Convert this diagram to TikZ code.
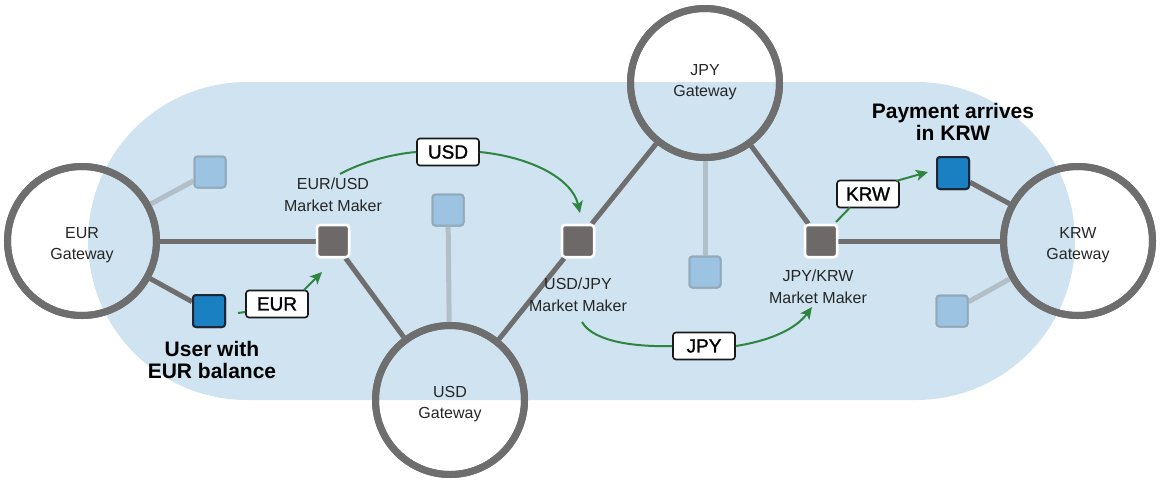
\documentclass[tikz,border=0pt]{standalone}
\usepackage{fontspec}
\setmainfont{Liberation Sans}
\newfontfamily\medfont[FakeBold=1.3]{Liberation Sans}
\usetikzlibrary{arrows.meta}
\definecolor{bgblue}{HTML}{CFE3F0}
\definecolor{gwgray}{HTML}{6E6E6E}
\definecolor{lightline}{HTML}{B3BFC8}
\definecolor{mmfill}{HTML}{6D6968}
\definecolor{sqlight}{HTML}{9DC3E3}
\definecolor{sqlightb}{HTML}{93AABB}
\definecolor{sqdark}{HTML}{1B80C2}
\definecolor{sqdarkb}{HTML}{1C2733}
\definecolor{flow}{HTML}{2E8540}
\begin{document}
\begin{tikzpicture}[x=1pt,y=-1pt,
  gw/.style={circle,draw=gwgray,line width=7pt,minimum size=149pt,inner sep=0pt,align=center,font=\fontsize{16}{22}\selectfont,text=black!85},
  mm/.style={rectangle,rounded corners=3pt,fill=mmfill,draw=white,line width=2.5pt,minimum size=32pt,inner sep=0pt},
  lsq/.style={rectangle,rounded corners=3pt,fill=sqlight,draw=sqlightb,line width=2pt,minimum size=31pt,inner sep=0pt},
  dsq/.style={rectangle,rounded corners=3pt,fill=sqdark,draw=sqdarkb,line width=2pt,minimum size=32pt,inner sep=0pt},
  lbl/.style={align=center,font=\fontsize{16}{21.5}\selectfont,text=black!85},
  big/.style={align=center,font=\fontsize{21}{21.5}\selectfont\bfseries},
  cur/.style={draw=black!90,fill=white,line width=1.6pt,rounded corners=3pt,minimum width=62pt,minimum height=27pt,inner sep=0pt,font=\fontsize{19}{20}\medfont},
  dline/.style={draw=gwgray,line width=5pt},
  lline/.style={draw=lightline,line width=5pt},
  fl/.style={draw=flow,line width=2pt},
  fla/.style={draw=flow,line width=2pt,-{Stealth[length=12pt,width=11pt,inset=3pt]}}
]
\useasboundingbox (0,0) rectangle (1170,485);
\fill[bgblue,rounded corners=159pt] (88,82) rectangle (1075,400);

% nodes
\node[gw] (eur) at (82,241) {};
\node[gw] (usd) at (450,400) {};
\node[gw] (jpy) at (705,83) {};
\node[gw] (krw) at (1078,241) {};

\node[mm] (m1) at (333,241) {};
\node[mm] (m2) at (578,241) {};
\node[mm] (m3) at (821,241) {};

\node[lsq] (l1) at (210,172) {};
\node[lsq] (l2) at (448,210) {};
\node[lsq] (l3) at (705,272) {};
\node[lsq] (l4) at (952,311) {};

\node[dsq] (user) at (209,311) {};
\node[dsq] (pay) at (953,173) {};

% connectors
\path[lline] (eur) -- (l1);
\path[lline] (usd) -- (l2);
\path[lline] (jpy) -- (l3);
\path[lline] (krw) -- (l4);
\path[dline] (eur) -- (m1);
\path[dline] (eur) -- (user);
\path[dline] (m1) -- (usd);
\path[dline] (usd) -- (m2);
\path[dline] (m2) -- (jpy);
\path[dline] (jpy) -- (m3);
\path[dline] (m3) -- (krw);
\path[dline] (krw) -- (pay);

% redraw nodes on top of lines
\node[gw] at (82,241) {};
\node[gw] at (450,400) {};
\node[gw] at (705,83) {};
\node[gw] at (1078,241) {};
\node[mm] at (333,241) {};
\node[mm] at (578,241) {};
\node[mm] at (821,241) {};
\node[lsq] at (210,172) {};
\node[lsq] at (448,210) {};
\node[lsq] at (705,272) {};
\node[lsq] at (952,311) {};
\node[dsq] at (209,311) {};
\node[dsq] at (953,173) {};

% gateway texts
\node[lbl] (g1) at (82,245) {EUR\\Gateway};
\node[lbl] (g2) at (450,404) {USD\\Gateway};
\node[lbl] (g3) at (705,82) {JPY\\Gateway};
\node[lbl] (g4) at (1078,245) {KRW\\Gateway};

% labels
\node[lbl] (t1) at (333,195) {EUR/USD\\Market Maker};
\node[lbl] (t2) at (578,295) {USD/JPY\\Market Maker};
\node[lbl] (t3) at (818,287) {JPY/KRW\\Market Maker};
\node[big] (tu) at (212,360) {User with\\EUR balance};
\node[big] (tp) at (953,122) {Payment arrives\\in KRW};

% currency boxes
\node[cur] (ceur) at (277,304) {EUR};
\node[cur] (cusd) at (448,152) {USD};
\node[cur] (cjpy) at (704,346) {JPY};
\node[cur] (ckrw) at (868,194) {KRW};

% flows
\coordinate (a1s) at (238,313);
\coordinate (a1e) at (322,272);
\draw[fl] (a1s) -- (ceur.west |- 0,312);
\draw[fla] (304,290) -- (a1e);

\coordinate (a2s) at (340,174);
\coordinate (a2e) at (580,213);
\draw[fl] (a2s) .. controls (362,162) and (392,154) .. (cusd.west);
\draw[fla] (cusd.east) .. controls (530,157) and (572,178) .. (a2e);

\coordinate (a3s) at (582,322);
\coordinate (a3e) at (812,307);
\draw[fl] (a3s) .. controls (594,343) and (640,347) .. (cjpy.west);
\draw[fla] (cjpy.east) .. controls (768,341) and (795,330) .. (a3e);

\coordinate (a4s) at (836,222);
\coordinate (a4e) at (928,172);
\draw[fl] (a4s) -- (850,207.5);
\draw[fla] (896,181) -- (a4e);
\end{tikzpicture}
\end{document}
